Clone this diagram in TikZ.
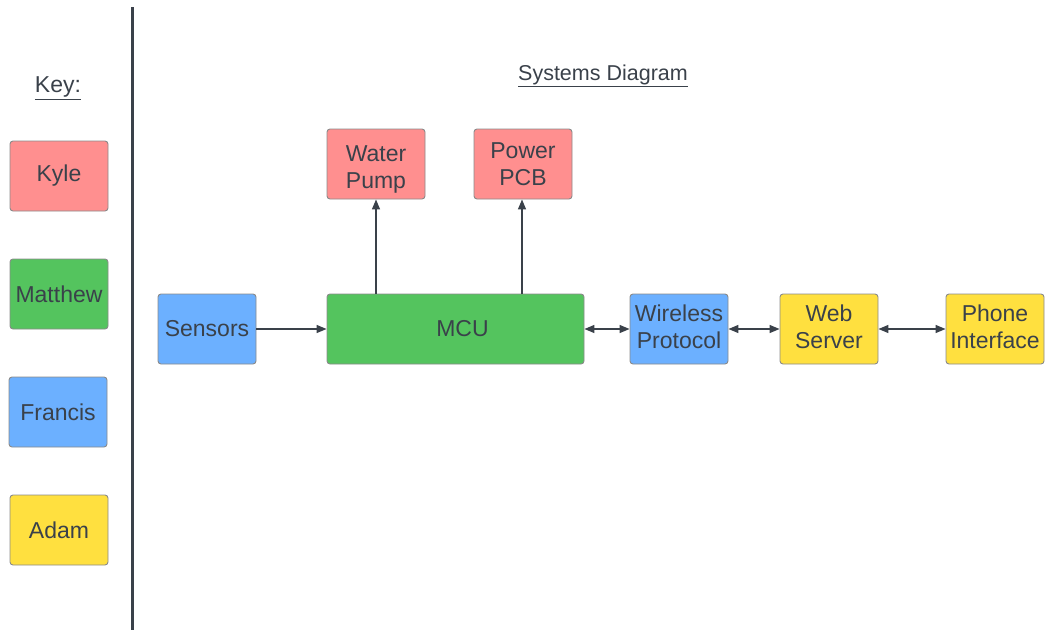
\documentclass[tikz,border=0pt]{standalone}
\usepackage{fontspec}
\setmainfont{Liberation Sans}
\usetikzlibrary{arrows.meta}
\definecolor{inkc}{HTML}{3A414A}
\definecolor{redf}{HTML}{FF8F8F}
\definecolor{greenf}{HTML}{54C45E}
\definecolor{bluef}{HTML}{6CB0FF}
\definecolor{yellowf}{HTML}{FFE03F}
\definecolor{edgec}{HTML}{8A8A8A}
% two centred lines; the optional padding on top lowers them inside the block
\newcommand{\pairlines}[3][2pt]{\raisebox{0pt}[\dimexpr\height+#1\relax][\depth]{\begin{tabular}{@{}c@{}}#2\\#3\end{tabular}}}
\begin{document}
\begin{tikzpicture}[x=1pt,y=-1pt,
  every node/.style={font=\fontsize{23}{27}\selectfont, text=inkc},
  blk/.style={draw=edgec, line width=0.9pt, rounded corners=3pt,
    minimum width=98pt, minimum height=70pt, inner sep=0pt, align=center},
  red/.style={blk, fill=redf},
  grn/.style={blk, fill=greenf},
  blu/.style={blk, fill=bluef},
  yel/.style={blk, fill=yellowf},
  link/.style={draw=inkc, line width=1.4pt, -{Triangle[length=10pt,width=8pt]}},
  dlink/.style={draw=inkc, line width=1.4pt, {Triangle[length=10pt,width=8pt]}-{Triangle[length=10pt,width=8pt]}}
]
\useasboundingbox (0,0) rectangle (1045,632);

% key column
\node (key) at (58,88) {\underline{Key:}};
\node[red] (kyle) at (59,176) {Kyle};
\node[grn] (matthew) at (59,294) {Matthew};
\node[blu] (francis) at (58,412) {Francis};
\node[yel] (adam) at (59,530) {Adam};

% divider
\draw[inkc, line width=3pt] (132,7) -- (132,630);

% title
\node[font=\fontsize{21.5}{26}\selectfont] (title) at (603,76) {\underline{Systems Diagram}};

% system blocks
\node[red] (pump) at (376,164) {\pairlines[12pt]{Water}{Pump}};
\node[red] (pcb) at (523,164) {\pairlines[6pt]{Power}{PCB}};
\node[blu] (sensors) at (207,329) {Sensors};
\node[grn, minimum width=257pt] (mcu) at (455.5,329) {\hspace*{14pt}MCU};
\node[blu] (wireless) at (679,329) {\pairlines{Wireless}{Protocol}};
\node[yel] (web) at (829,329) {\pairlines{Web}{Server}};
\node[yel] (phone) at (995,329) {\pairlines{Phone}{Interface}};

% connections
\draw[link] (sensors) -- (mcu);
\draw[link] (mcu.north -| pump) -- (pump.south);
\draw[link] (mcu.north -| 522,0) -- (pcb.south -| 522,0);
\draw[dlink] (mcu) -- (wireless);
\draw[dlink] (wireless) -- (web);
\draw[dlink] (web) -- (phone);
\end{tikzpicture}
\end{document}
